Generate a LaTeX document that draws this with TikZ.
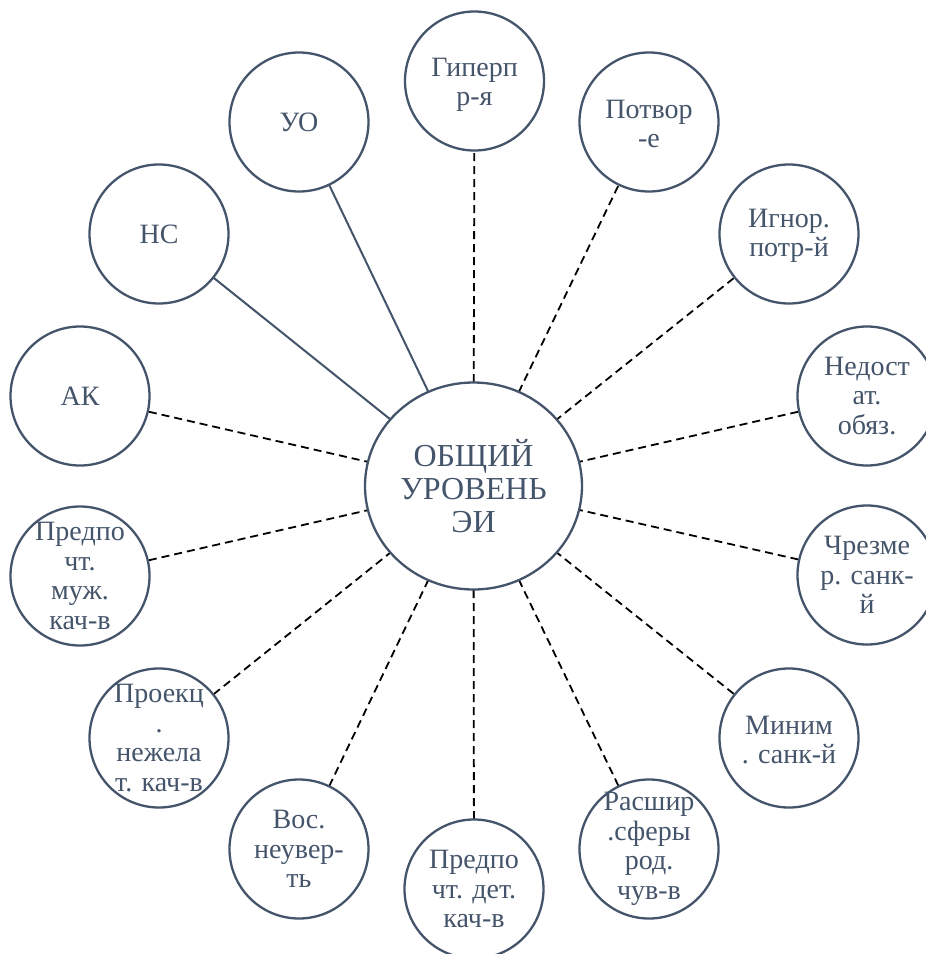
\documentclass[tikz,border=0pt]{standalone}
\usepackage{fontspec}
\setmainfont{Liberation Serif}
\usetikzlibrary{shapes.geometric}
\definecolor{slate}{HTML}{44546A}
\tikzset{
  bub/.style={circle, draw=slate, line width=2.3pt, fill=white, minimum size=139pt, inner sep=0pt},
  big/.style={ellipse, draw=slate, line width=2.3pt, fill=white, minimum width=217pt, minimum height=207pt, inner sep=0pt,
    text=slate, align=center, font=\fontsize{32}{33}\selectfont},
  lbl/.style={text=slate, align=center, font=\fontsize{28}{29.5}\selectfont, inner sep=0pt},
  solidlink/.style={draw=slate, line width=2pt},
  dashlink/.style={draw=black, line width=1.8pt, dash pattern=on 8pt off 5pt}
}
\newcommand{\bubble}[4]{\node[bub, label={[lbl, yshift=#4]center:{#3}}] (#1) at #2 {};}
\begin{document}
\begin{tikzpicture}[x=1pt,y=-1pt]
\useasboundingbox (0,0) rectangle (926,954);
\clip (0,0) rectangle (926,954);
\fill[white] (0,0) rectangle (926,954);
% connectors first (behind nodes)
\coordinate (cc) at (473.5,486);
\coordinate (p1) at (474.5,81);
\coordinate (p2) at (649,122);
\coordinate (p3) at (789,234);
\coordinate (p4) at (867,396);
\coordinate (p5) at (867,575);
\coordinate (p6) at (789,738);
\coordinate (p7) at (649,849);
\coordinate (p8) at (474,889);
\coordinate (p9) at (299,849);
\coordinate (p10) at (159,738);
\coordinate (p11) at (80,576);
\coordinate (p12) at (80,396);
\coordinate (p13) at (159,234);
\coordinate (p14) at (299,122);
\draw[dashlink] (cc) -- (p1);
\draw[dashlink] (cc) -- (p2);
\draw[dashlink] (cc) -- (p3);
\draw[dashlink] (cc) -- (p4);
\draw[dashlink] (cc) -- (p5);
\draw[dashlink] (cc) -- (p6);
\draw[dashlink] (cc) -- (p7);
\draw[dashlink] (cc) -- (p8);
\draw[dashlink] (cc) -- (p9);
\draw[dashlink] (cc) -- (p10);
\draw[dashlink] (cc) -- (p11);
\draw[dashlink] (cc) -- (p12);
\draw[solidlink] (cc) -- (p13);
\draw[solidlink] (cc) -- (p14);
% nodes
\node[big] (C) at (cc) {ОБЩИЙ\\УРОВЕНЬ\\ЭИ};
\bubble{g1}{(p1)}{Гиперп\\р-я}{-4pt}
\bubble{g2}{(p2)}{Потвор\\-е}{-2pt}
\bubble{g3}{(p3)}{Игнор.\\потр-й}{-2pt}
\bubble{g4}{(p4)}{Недост\\ат.\\обяз.}{0pt}
\bubble{g5}{(p5)}{Чрезме\\р. санк-\\й}{0pt}
\bubble{g6}{(p6)}{Миним\\. санк-й}{-2pt}
\bubble{g7}{(p7)}{Расшир\\.сферы\\род.\\чув-в}{0pt}
\bubble{g8}{(p8)}{Предпо\\чт. дет.\\кач-в}{0pt}
\bubble{g9}{(p9)}{Вос.\\неувер-\\ть}{0pt}
\bubble{g10}{(p10)}{Проекц\\.\\нежела\\т. кач-в}{0pt}
\bubble{g11}{(p11)}{Предпо\\чт.\\муж.\\кач-в}{0pt}
\bubble{g12}{(p12)}{АК}{0pt}
\bubble{g13}{(p13)}{НС}{0pt}
\bubble{g14}{(p14)}{УО}{0pt}
\end{tikzpicture}
\end{document}
